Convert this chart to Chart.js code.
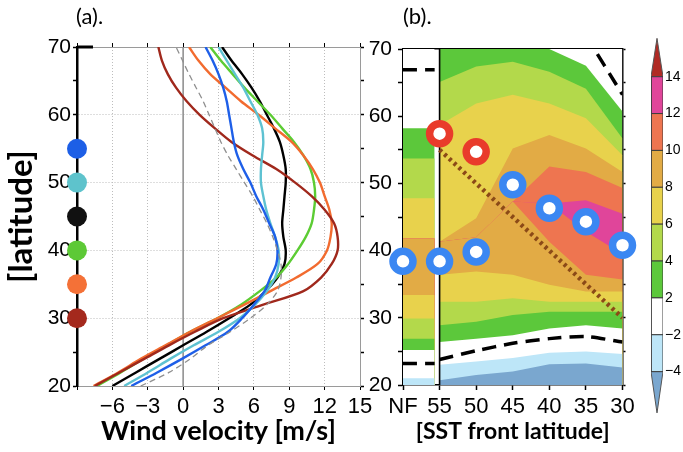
<!DOCTYPE html>
<html>
<head>
<meta charset="utf-8">
<script src="https://cdn.jsdelivr.net/npm/chart.js@4.4.1/dist/chart.umd.min.js"></script>
<style>
  html, body { margin: 0; padding: 0; background: #fff; }
  body { width: 683px; height: 452px; position: relative; overflow: hidden; }
  canvas { position: absolute; top: 0; }
  #windChart { left: 0; }
  #frontChart { left: 360px; }
  #colorBar { left: 640px; }
</style>
</head>
<body>
<canvas id="windChart" width="380" height="452"></canvas>
<canvas id="frontChart" width="280" height="452"></canvas>
<canvas id="colorBar" width="43" height="452"></canvas>
<script>
// (a) zonal wind profiles, one per SST front latitude (NF = no front)
const latitudes = [20, 22, 24, 26, 28, 30, 32, 34, 36, 38, 40, 42, 44, 46, 48, 50, 52, 54, 56, 58, 60, 62, 64, 66, 68, 70]
const wind30 = [-7.5, -5.4, -3.3, -1.2, 1.0, 3.4, 6.8, 10.2, 11.7, 12.6, 13.1, 13.1, 12.8, 12.0, 10.9, 9.5, 7.9, 5.9, 4.1, 2.7, 1.4, 0.3, -0.6, -1.3, -1.8, -2.1]
const wind35 = [-7.6, -5.5, -3.6, -1.5, 0.6, 2.9, 5.2, 7.4, 9.6, 11.4, 12.2, 12.5, 12.6, 12.4, 12.0, 11.6, 11.0, 10.2, 9.2, 7.8, 6.4, 4.9, 3.6, 2.3, 1.3, 0.5]
const wind40 = [-7.3, -5.3, -3.4, -1.4, 0.6, 2.9, 4.9, 6.5, 7.9, 8.9, 9.7, 10.4, 10.9, 11.1, 11.2, 11.1, 10.8, 10.2, 9.4, 8.4, 7.4, 6.3, 5.2, 4.2, 3.2, 2.3]
const wind45 = [-6.0, -4.0, -2.0, 0.0, 2.0, 3.9, 5.7, 7.0, 8.0, 8.6, 8.7, 8.5, 8.4, 8.5, 8.6, 8.7, 8.7, 8.5, 8.2, 7.7, 7.1, 6.5, 5.8, 5.0, 4.1, 3.3]
const wind50 = [-5.0, -3.0, -1.1, 0.9, 3.0, 4.8, 6.1, 7.1, 7.8, 8.1, 8.1, 7.8, 7.4, 7.05, 6.8, 6.6, 6.6, 6.7, 6.8, 6.7, 6.3, 5.7, 5.1, 4.4, 3.7, 3.0]
const wind55 = [-4.4, -2.2, -0.1, 1.9, 3.8, 5.0, 6.0, 6.9, 7.4, 7.9, 8.0, 7.8, 7.3, 6.8, 6.2, 5.7, 5.1, 4.6, 4.3, 4.1, 3.9, 3.7, 3.4, 3.0, 2.5, 1.9]
const windNF = [-3.6, -1.2, 0.6, 2.1, 4.0, 5.7, 7.1, 8.0, 8.3, 8.3, 8.0, 7.6, 7.1, 6.5, 5.9, 5.2, 4.5, 3.8, 3.2, 2.7, 2.2, 1.7, 1.1, 0.5, -0.05, -0.6]

// (b) x categories, front latitudes and jet positions
const fronts = ["NF", "55", "50", "45", "40", "35", "30"]
const frontLatitudes = [55, 50, 45, 40, 35, 30]
const jetRed = [57.4, 54.7]                                   // fronts 55, 50
const jetBlue = [38.4, 38.4, 39.8, 49.8, 46.3, 44.3, 40.8]    // NF .. 30

// (b) contour bands: upper latitude of each band, bottom to top, per column
// band levels: <-4, -4..-2, -2..2, 2..4, 4..6, 6..8, 8..10, 10..12, 12..14, 10..12, 8..10, 6..8, 4..6, 2..4, -2..2
const bandLevels = [0, 1, 2, 3, 4, 5, 6, 7, 8, 7, 6, 5, 4, 3, 2]
const bandsNF = [20.0, 21.0, 25.2, 26.9, 29.9, 33.4, 41.8, 41.8, 41.8, 41.8, 41.8, 47.8, 53.7, 58.2, 70]
const bands55 = [20.7, 23.0, 26.4, 28.9, 32.4, 36.4, 41.3, 41.3, 41.3, 41.3, 41.3, 58.7, 65.1, 70, 70]
const bands50 = [21.5, 23.5, 26.9, 29.4, 32.4, 36.9, 42.0, 42.0, 42.0, 42.0, 44.8, 61.9, 67.4, 70, 70]
const bands45 = [22.0, 24.0, 27.4, 30.4, 32.9, 36.4, 47.3, 47.3, 47.3, 47.3, 55.2, 63.2, 68.1, 70, 70]
const bands40 = [23.1, 24.8, 28.4, 30.9, 32.4, 34.9, 41.3, 47.0, 47.0, 52.5, 57.2, 61.9, 66.6, 70, 70]
const bands35 = [23.2, 25.0, 28.9, 30.9, 32.4, 33.9, 36.4, 42.8, 47.5, 51.7, 55.2, 59.7, 64.1, 67.5, 70]
const bands30 = [22.6, 24.6, 28.4, 30.9, 32.4, 33.9, 35.7, 39.5, 45.5, 49.3, 51.7, 54.2, 56.7, 60.7, 70]

// zero contour (dashed), per column NF .. 30
const zeroLow = [23.2, 23.8, 25.1, 26.2, 26.9, 27.2, 26.4]
const zeroHigh = [66.9, null, null, null, null, 72.0, 63.2]

// colour bar
const levelLabels = ["−4", "−2", "2", "4", "6", "8", "10", "12", "14"]
const levelColors = ["#7aa7cf", "#bde6f8", "#ffffff", "#5cc83b", "#b3d94b", "#e8d24c", "#e2ab45", "#ee7550", "#e0459a", "#b02a24"]

const latMin = 20, latMax = 70
const windMin = -9, windMax = 15
const nfWidth = 0.865
const jetBlueColor = "#3b87f2", jetRedColor = "#e93b2b"
const frontColors = ["#1d5fe6", "#5ec3cc", "#111111", "#5dc936", "#f47137", "#a4291d"]
const minus = v => String(v).replace("-", "−")

Chart.defaults.font.family = "'Liberation Sans', Arial, sans-serif"
Chart.defaults.color = "#000"
Chart.defaults.animation = false
Chart.defaults.events = []
Chart.defaults.plugins.legend.display = false
Chart.defaults.plugins.tooltip.enabled = false
Chart.defaults.elements.point.radius = 0

const titleFont = size => ({ family: "Lato, 'Open Sans', sans-serif", size, weight: "bold" })

const panelLabel = (id, text, x) => ({
  id,
  afterDraw(chart) {
    const ctx = chart.ctx
    ctx.save()
    ctx.fillStyle = "#000"
    ctx.font = "22px Lato, sans-serif"
    ctx.textBaseline = "middle"
    ctx.fillText(text, x, 17)
    ctx.restore()
  }
})

// ---------- panel (a) ----------
const profiles = [
  { data: windNF, color: "#8f8f8f", dash: [6, 4], width: 1.3 },
  { data: wind55, color: "#1e5fe8" },
  { data: wind50, color: "#5ec2d2" },
  { data: wind30, color: "#a0281c" },
  { data: wind35, color: "#f26b2f" },
  { data: wind40, color: "#5ccc33" },
  { data: wind45, color: "#000000" }
]

const zeroLine = {
  id: "zeroLine",
  beforeDatasetsDraw(chart) {
    const { ctx, chartArea: a, scales: { x } } = chart
    const x0 = x.getPixelForValue(0)
    ctx.save()
    ctx.strokeStyle = "#8a8a8a"
    ctx.lineWidth = 1.5
    ctx.beginPath()
    ctx.moveTo(x0, a.top)
    ctx.lineTo(x0, a.bottom)
    ctx.stroke()
    ctx.strokeStyle = "#000"
    ctx.lineWidth = 3
    ctx.beginPath()
    ctx.moveTo(a.left, a.top)
    ctx.lineTo(a.left + 16, a.top)
    ctx.stroke()
    ctx.restore()
  }
}

new Chart(document.getElementById("windChart"), {
  type: "line",
  data: {
    datasets: [
      {
        data: frontLatitudes.map(lat => ({ x: windMin, y: lat })),
        showLine: false,
        pointRadius: 10,
        pointBorderWidth: 0,
        pointBackgroundColor: frontColors,
        clip: false
      },
      ...profiles.map(p => ({
        data: latitudes.map((lat, i) => ({ x: p.data[i], y: lat })),
        borderColor: p.color,
        borderWidth: p.width || 2.4,
        borderDash: p.dash || [],
        tension: 0.3,
        fill: false
      }))
    ]
  },
  options: {
    responsive: false,
    layout: { padding: 0 },
    scales: {
      x: {
        type: "linear", min: windMin, max: windMax,
        ticks: { stepSize: 3, autoSkip: false, maxRotation: 0, padding: 4, font: { size: 22 },
                 callback: v => v === windMin ? "" : minus(v) },
        grid: { color: c => (c.tick && c.tick.value !== 0 && c.tick.value > windMin && c.tick.value < windMax) ? "#bdbdbd" : "transparent",
                tickColor: "#000", tickLength: 4 },
        border: { color: "#9a9a9a", dash: [1, 2] },
        title: { display: true, text: "Wind velocity [m/s]", font: titleFont(27), padding: { top: 0, bottom: 5 } },
        afterFit: s => { s.height = 66 }
      },
      x2: {
        type: "linear", position: "top", min: windMin, max: windMax,
        ticks: { display: false, stepSize: 3 },
        grid: { drawOnChartArea: false, tickColor: "#000", tickLength: 4 },
        border: { color: "#9a9a9a" },
        afterFit: s => { s.height = 47 }
      },
      y: {
        type: "linear", min: latMin, max: latMax, z: 1,
        ticks: { stepSize: 5, autoSkip: false, padding: 2, font: { size: 21 },
                 callback: v => v % 10 === 0 ? String(v) : "" },
        grid: { color: c => (c.tick && c.tick.value % 10 === 0 && c.tick.value > latMin && c.tick.value < latMax) ? "#bdbdbd" : "transparent",
                tickColor: "#000", tickLength: 4, tickWidth: 1.5 },
        border: { color: "#000", width: 2.5, dash: [1, 2] },
        title: { display: true, text: "[latitude]", font: titleFont(33), padding: { top: 2, bottom: 0 } },
        afterFit: s => { s.width = 77 }
      },
      y2: {
        type: "linear", position: "right", min: latMin, max: latMax,
        ticks: { display: false, stepSize: 5 },
        grid: { drawOnChartArea: false, tickColor: "#000", tickLength: 4, tickWidth: 1.5 },
        border: { color: "#9a9a9a" },
        afterFit: s => { s.width = 20 }
      }
    }
  },
  plugins: [zeroLine, panelLabel("labelA", "(a).", 76)]
})

// ---------- panel (b) ----------
const frontSets = []
frontSets.push({
  data: jetBlue.map((y, i) => ({ x: i, y })),
  showLine: false, pointRadius: 10, pointBorderWidth: 7.5,
  pointBackgroundColor: "#fff", pointBorderColor: jetBlueColor, clip: false, order: 0
})
frontSets.push({
  data: jetRed.map((y, i) => ({ x: i + 1, y })),
  showLine: false, pointRadius: 10, pointBorderWidth: 7.5,
  pointBackgroundColor: "#fff", pointBorderColor: jetRedColor, clip: false, order: 0
})
frontSets.push({
  data: frontLatitudes.map((y, i) => ({ x: i + 1, y })),
  borderColor: "#8b4a17", borderWidth: 4.5, borderDash: [3, 3.5], fill: false, order: 1
})
const dashed = data => ({ data, borderColor: "#000", borderWidth: 3.5, borderDash: [14, 8], tension: 0.25, fill: false, order: 2 })
frontSets.push(dashed([{ x: 0, y: zeroLow[0] }, { x: nfWidth, y: zeroLow[0] }]))
frontSets.push(dashed(zeroLow.slice(1).map((y, i) => ({ x: i + 1, y }))))
frontSets.push(dashed([{ x: 0, y: zeroHigh[0] }, { x: nfWidth, y: zeroHigh[0] }]))
frontSets.push(dashed(zeroHigh.map((y, i) => ({ x: i, y })).filter(p => p.x > 0 && p.y !== null)))
frontSets.push({
  data: [{ x: 1, y: latMin }, { x: 1, y: latMax }],
  borderColor: "#000", borderWidth: 1.6, fill: false, order: 3
})

// each band is filled from its upper edge down to the axis start; lower bands paint over
function addField(columns, xs) {
  bandLevels.forEach((lvl, k) => {
    frontSets.push({
      data: xs.map((x, c) => ({ x, y: columns[c][k] })),
      borderWidth: 0, backgroundColor: levelColors[lvl], fill: "start", tension: 0, order: 5
    })
  })
}
addField([bandsNF, bandsNF], [0, nfWidth])
addField([bands55, bands50, bands45, bands40, bands35, bands30], [1, 2, 3, 4, 5, 6])

new Chart(document.getElementById("frontChart"), {
  type: "line",
  data: { datasets: frontSets },
  options: {
    responsive: false,
    layout: { padding: 0 },
    scales: {
      x: {
        type: "linear", min: 0, max: fronts.length - 1,
        afterBuildTicks: s => { s.ticks = fronts.map((_, i) => ({ value: i })) },
        ticks: { autoSkip: false, maxRotation: 0, padding: 4, font: { size: 22 }, callback: v => fronts[v] },
        grid: { drawOnChartArea: false, tickColor: "#000", tickLength: 5, tickWidth: 1.5 },
        border: { color: "#000", width: 1.5 },
        title: { display: true, text: "[SST front latitude]", font: titleFont(23), padding: { top: 0, bottom: 7 } },
        afterFit: s => { s.height = 67 }
      },
      x2: {
        type: "linear", position: "top", min: 0, max: fronts.length - 1,
        ticks: { display: false },
        grid: { display: false, drawTicks: false },
        border: { color: "#000", width: 1.5 },
        afterFit: s => { s.height = 49 }
      },
      y: {
        type: "linear", min: latMin, max: latMax,
        ticks: { stepSize: 5, autoSkip: false, padding: 6, font: { size: 21 },
                 callback: v => v % 10 === 0 ? String(v) : "" },
        grid: { drawOnChartArea: false, tickColor: "#000", tickLength: 5, tickWidth: 1.5 },
        border: { color: "#000", width: 1.5 },
        afterFit: s => { s.width = 43 }
      },
      y2: {
        type: "linear", position: "right", min: latMin, max: latMax,
        ticks: { display: false, stepSize: 5 },
        grid: { drawOnChartArea: false, tickColor: "#000", tickLength: 3, tickWidth: 1.5 },
        border: { color: "#000", width: 1.5 },
        afterFit: s => { s.width = 8 }
      }
    }
  },
  plugins: [panelLabel("labelB", "(b).", 43)]
})

// ---------- colour bar ----------
const topLevel = levelLabels.length - 1
const barSets = levelColors.slice(1, -1).map((color, j) => ({
  data: [{ x: 0, y: j }, { x: 1, y: j }, { x: 1, y: j + 1 }, { x: 0, y: j + 1 }, { x: 0, y: j }],
  backgroundColor: color, borderColor: "#3d3d3d", borderWidth: 1, fill: "shape", tension: 0
}))
barSets.push({
  data: [{ x: 0, y: topLevel }, { x: 1, y: topLevel }, { x: 0.5, y: topLevel + 1.04 }, { x: 0, y: topLevel }],
  backgroundColor: levelColors[levelColors.length - 1], borderColor: "#555", borderWidth: 1, fill: "shape", tension: 0
})
barSets.push({
  data: [{ x: 0, y: 0 }, { x: 0.5, y: -1.12 }, { x: 1, y: 0 }, { x: 0, y: 0 }],
  backgroundColor: levelColors[0], borderColor: "#555", borderWidth: 1, fill: "shape", tension: 0
})

new Chart(document.getElementById("colorBar"), {
  type: "line",
  data: { datasets: barSets },
  options: {
    responsive: false,
    layout: { padding: { left: 11, right: 0, top: 38, bottom: 38 } },
    scales: {
      x: { type: "linear", min: 0, max: 1, display: false },
      y: {
        type: "linear", position: "right", min: -1.15, max: topLevel + 1.05,
        afterBuildTicks: s => { s.ticks = levelLabels.map((_, i) => ({ value: i })) },
        ticks: { autoSkip: false, padding: 2, font: { size: 14 }, callback: v => levelLabels[v] },
        grid: { display: false, drawTicks: false },
        border: { display: false },
        afterFit: s => { s.width = 20 }
      }
    }
  }
})
</script>
</body>
</html>
